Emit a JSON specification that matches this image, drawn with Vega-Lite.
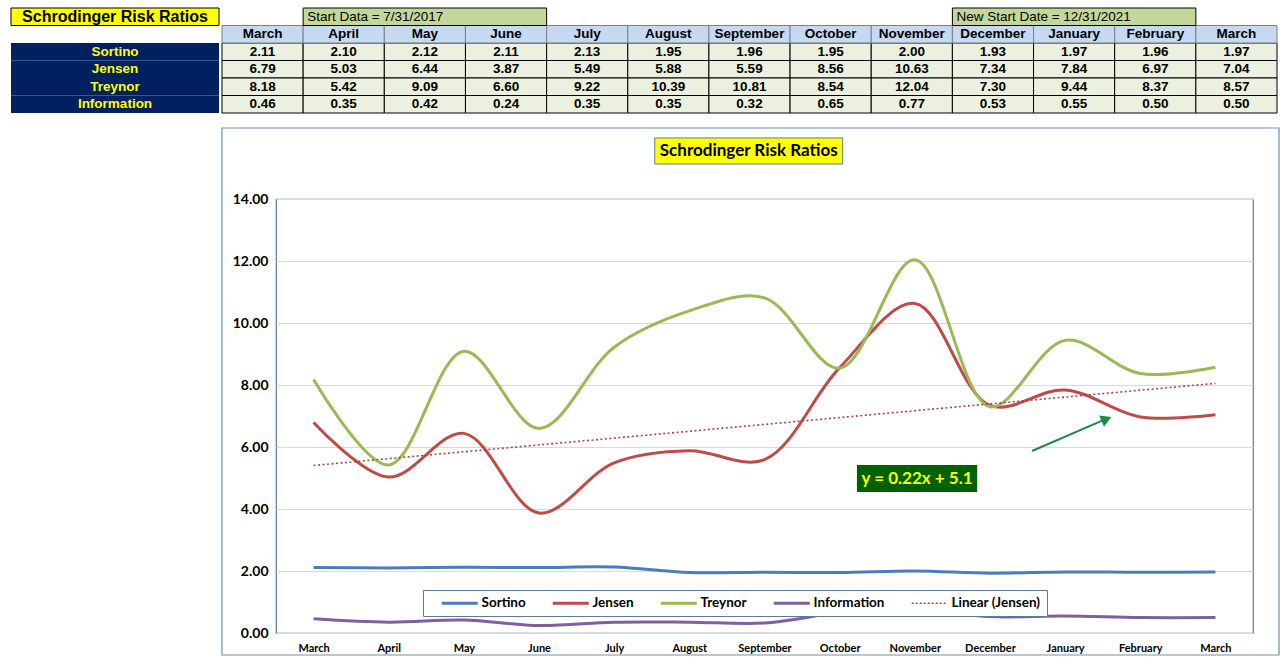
{
  "$schema": "https://vega.github.io/schema/vega-lite/v6.json",
  "background": "white",
  "padding": {"left": 10, "top": 7, "right": 5, "bottom": 3},
  "datasets": {
    "risk": [
      {"i": 1, "month": "March", "series": "Sortino", "value": 2.11},
      {"i": 2, "month": "April", "series": "Sortino", "value": 2.10},
      {"i": 3, "month": "May", "series": "Sortino", "value": 2.12},
      {"i": 4, "month": "June", "series": "Sortino", "value": 2.11},
      {"i": 5, "month": "July", "series": "Sortino", "value": 2.13},
      {"i": 6, "month": "August", "series": "Sortino", "value": 1.95},
      {"i": 7, "month": "September", "series": "Sortino", "value": 1.96},
      {"i": 8, "month": "October", "series": "Sortino", "value": 1.95},
      {"i": 9, "month": "November", "series": "Sortino", "value": 2.00},
      {"i": 10, "month": "December", "series": "Sortino", "value": 1.93},
      {"i": 11, "month": "January", "series": "Sortino", "value": 1.97},
      {"i": 12, "month": "February", "series": "Sortino", "value": 1.96},
      {"i": 13, "month": "March", "series": "Sortino", "value": 1.97},
      {"i": 1, "month": "March", "series": "Jensen", "value": 6.79},
      {"i": 2, "month": "April", "series": "Jensen", "value": 5.03},
      {"i": 3, "month": "May", "series": "Jensen", "value": 6.44},
      {"i": 4, "month": "June", "series": "Jensen", "value": 3.87},
      {"i": 5, "month": "July", "series": "Jensen", "value": 5.49},
      {"i": 6, "month": "August", "series": "Jensen", "value": 5.88},
      {"i": 7, "month": "September", "series": "Jensen", "value": 5.59},
      {"i": 8, "month": "October", "series": "Jensen", "value": 8.56},
      {"i": 9, "month": "November", "series": "Jensen", "value": 10.63},
      {"i": 10, "month": "December", "series": "Jensen", "value": 7.34},
      {"i": 11, "month": "January", "series": "Jensen", "value": 7.84},
      {"i": 12, "month": "February", "series": "Jensen", "value": 6.97},
      {"i": 13, "month": "March", "series": "Jensen", "value": 7.04},
      {"i": 1, "month": "March", "series": "Treynor", "value": 8.18},
      {"i": 2, "month": "April", "series": "Treynor", "value": 5.42},
      {"i": 3, "month": "May", "series": "Treynor", "value": 9.09},
      {"i": 4, "month": "June", "series": "Treynor", "value": 6.60},
      {"i": 5, "month": "July", "series": "Treynor", "value": 9.22},
      {"i": 6, "month": "August", "series": "Treynor", "value": 10.39},
      {"i": 7, "month": "September", "series": "Treynor", "value": 10.81},
      {"i": 8, "month": "October", "series": "Treynor", "value": 8.54},
      {"i": 9, "month": "November", "series": "Treynor", "value": 12.04},
      {"i": 10, "month": "December", "series": "Treynor", "value": 7.30},
      {"i": 11, "month": "January", "series": "Treynor", "value": 9.44},
      {"i": 12, "month": "February", "series": "Treynor", "value": 8.37},
      {"i": 13, "month": "March", "series": "Treynor", "value": 8.57},
      {"i": 1, "month": "March", "series": "Information", "value": 0.46},
      {"i": 2, "month": "April", "series": "Information", "value": 0.35},
      {"i": 3, "month": "May", "series": "Information", "value": 0.42},
      {"i": 4, "month": "June", "series": "Information", "value": 0.24},
      {"i": 5, "month": "July", "series": "Information", "value": 0.35},
      {"i": 6, "month": "August", "series": "Information", "value": 0.35},
      {"i": 7, "month": "September", "series": "Information", "value": 0.32},
      {"i": 8, "month": "October", "series": "Information", "value": 0.65},
      {"i": 9, "month": "November", "series": "Information", "value": 0.77},
      {"i": 10, "month": "December", "series": "Information", "value": 0.53},
      {"i": 11, "month": "January", "series": "Information", "value": 0.55},
      {"i": 12, "month": "February", "series": "Information", "value": 0.50},
      {"i": 13, "month": "March", "series": "Information", "value": 0.50}
    ]
  },
  "spacing": 0,
  "hconcat": [
    {
      "width": 208,
      "height": 105,
      "data": {"name": "risk"},
      "layer": [
        {
          "transform": [{"filter": "datum.i == 1"}],
          "mark": {"type": "rect", "fill": "#002060"},
          "encoding": {
            "y": {"field": "series", "type": "nominal", "axis": null,
              "scale": {"domain": ["title", "header", "Sortino", "Jensen", "Treynor", "Information"], "paddingInner": 0, "paddingOuter": 0}}
          }
        },
        {
          "transform": [{"filter": "datum.i == 1"}],
          "mark": {"type": "text", "color": "#ffff00", "font": "Liberation Sans Narrow, Liberation Sans", "fontWeight": "bold", "fontSize": 13.5},
          "encoding": {
            "y": {"field": "series", "type": "nominal"},
            "text": {"field": "series"}
          }
        },
        {
          "data": {"values": [{}]},
          "mark": {"type": "rect", "fill": "#ffff00", "stroke": "#000000", "strokeWidth": 1},
          "encoding": {"y": {"datum": "title", "type": "nominal"}}
        },
        {
          "data": {"values": [{}]},
          "mark": {"type": "text", "color": "#000000", "font": "Liberation Sans Narrow, Liberation Sans", "fontWeight": "bold", "fontSize": 16},
          "encoding": {"y": {"datum": "title", "type": "nominal"}, "text": {"value": "Schrodinger Risk Ratios"}}
        }
      ]
    },
    {
      "spacing": 12,
      "vconcat": [
        {
          "width": 1001,
          "height": 105,
          "data": {"name": "risk"},
          "encoding": {
            "x": {"field": "i", "type": "ordinal", "axis": null, "scale": {"range": [-54, 1001], "paddingInner": 0, "paddingOuter": 0}}
          },
          "layer": [
            {
              "mark": {"type": "rect", "fill": "#ebf1de", "stroke": "#000000", "strokeWidth": 1},
              "encoding": {
                "y": {"field": "series", "type": "nominal", "axis": null,
                  "scale": {"domain": ["title", "header", "Sortino", "Jensen", "Treynor", "Information"], "paddingInner": 0, "paddingOuter": 0}}
              }
            },
            {
              "mark": {"type": "text", "color": "#000000", "font": "Liberation Sans Narrow, Liberation Sans", "fontWeight": "bold", "fontSize": 13.5},
              "encoding": {
                "y": {"field": "series", "type": "nominal"},
                "text": {"field": "value", "type": "quantitative", "format": ".2f"}
              }
            },
            {
              "transform": [{"filter": "datum.series == 'Sortino'"}],
              "mark": {"type": "rect", "fill": "#c5d9f1", "stroke": "#7f7f7f", "strokeWidth": 1},
              "encoding": {"y": {"datum": "header", "type": "nominal"}}
            },
            {
              "transform": [{"filter": "datum.series == 'Sortino'"}],
              "mark": {"type": "text", "color": "#000000", "font": "Liberation Sans Narrow, Liberation Sans", "fontWeight": "bold", "fontSize": 13.5},
              "encoding": {"y": {"datum": "header", "type": "nominal"}, "text": {"field": "month"}}
            },
            {
              "data": {"values": [{}]},
              "mark": {"type": "rect", "fill": "#c4d79b", "stroke": "#000000", "strokeWidth": 1},
              "encoding": {"x": {"datum": 2, "type": "ordinal", "bandPosition": 0}, "x2": {"datum": 5, "bandPosition": 0}, "y": {"datum": "title", "type": "nominal"}}
            },
            {
              "data": {"values": [{}]},
              "mark": {"type": "rect", "fill": "#c4d79b", "stroke": "#000000", "strokeWidth": 1},
              "encoding": {"x": {"datum": 10, "type": "ordinal", "bandPosition": 0}, "x2": {"datum": 13, "bandPosition": 0}, "y": {"datum": "title", "type": "nominal"}}
            },
            {
              "data": {"values": [{}]},
              "mark": {"type": "text", "align": "left", "dx": 4, "color": "#000000", "font": "Liberation Sans Narrow, Liberation Sans", "fontSize": 13.5},
              "encoding": {"x": {"datum": 2, "type": "ordinal", "bandPosition": 0}, "y": {"datum": "title", "type": "nominal"}, "text": {"value": "Start Data = 7/31/2017"}}
            },
            {
              "data": {"values": [{}]},
              "mark": {"type": "text", "align": "left", "dx": 4, "color": "#000000", "font": "Liberation Sans Narrow, Liberation Sans", "fontSize": 13.5},
              "encoding": {"x": {"datum": 10, "type": "ordinal", "bandPosition": 0}, "y": {"datum": "title", "type": "nominal"}, "text": {"value": "New Start Date = 12/31/2021"}}
            }
          ]
        },
        {
          "width": 977,
          "height": 434,
          "view": {"stroke": "#5d7b99", "strokeWidth": 1.2, "fill": "white"},
          "data": {"name": "risk"},
          "layer": [
            {
              "data": {"values": [{}]},
              "mark": {"type": "rect", "fill": null, "stroke": "#6f8faf", "strokeWidth": 1.2},
              "encoding": {
                "x": {"datum": -0.219, "type": "quantitative"},
                "x2": {"datum": 13.846},
                "y": {"datum": 16.29, "type": "quantitative"},
                "y2": {"datum": -0.71}
              }
            },
            {
              "data": {"values": [{}]},
              "mark": {"type": "rect", "fill": "#ffff00", "stroke": "#5d7b99", "strokeWidth": 1},
              "encoding": {
                "x": {"datum": 5.54, "type": "quantitative"},
                "x2": {"datum": 8.04},
                "y": {"datum": 15.97, "type": "quantitative"},
                "y2": {"datum": 15.13}
              }
            },
            {
              "data": {"values": [{}]},
              "mark": {"type": "text", "font": "Lato", "fontWeight": "bold", "fontSize": 17, "color": "#000000"},
              "encoding": {
                "x": {"datum": 6.79, "type": "quantitative"},
                "y": {"datum": 15.55, "type": "quantitative"},
                "text": {"value": "Schrodinger Risk Ratios"}
              }
            },
            {
              "mark": {"type": "line", "interpolate": "catmull-rom", "strokeWidth": 3},
              "encoding": {
                "x": {"field": "i", "type": "quantitative",
                  "scale": {"domain": [0.5, 13.5], "nice": false, "zero": false},
                  "axis": {"title": null, "values": [1,2,3,4,5,6,7,8,9,10,11,12,13], "grid": false, "ticks": false, "domain": false,
                    "labelExpr": "['','March','April','May','June','July','August','September','October','November','December','January','February','March'][datum.value]",
                    "labelFont": "Lato", "labelFontWeight": "bold", "labelFontSize": 11, "labelColor": "#000000", "labelPadding": 9}},
                "y": {"field": "value", "type": "quantitative",
                  "scale": {"domain": [0, 14], "nice": false, "zero": true},
                  "axis": {"title": null, "values": [0,2,4,6,8,10,12,14], "format": ".2f", "grid": true, "gridColor": "#d9d9d9", "gridWidth": 1.2,
                    "ticks": false, "domain": false, "labelFont": "Lato", "labelFontWeight": "bold", "labelFontSize": 14, "labelColor": "#000000", "labelPadding": 8}},
                "color": {"field": "series", "type": "nominal",
                  "scale": {"domain": ["Sortino", "Jensen", "Treynor", "Information", "Linear (Jensen)"],
                    "range": ["#4a7ebb", "#be4b48", "#98b954", "#7d60a0", "#a84542"]},
                  "legend": {"orient": "none", "legendX": 412, "legendY": 582, "direction": "horizontal", "columns": 5, "title": null,
                    "strokeColor": "#5d7b99", "fillColor": "white", "padding": 6,
                    "labelFont": "Lato", "labelFontSize": 13.5, "labelFontWeight": "bold", "labelColor": "#000000",
                    "symbolType": "stroke", "symbolSize": 1300, "symbolStrokeWidth": 3, "symbolOffset": 24, "columnPadding": 14, "labelOffset": 15,
                    "encode": {"symbols": {"update": {
                      "strokeDash": {"signal": "datum.value == 'Linear (Jensen)' ? [2,2] : [1,0]"},
                      "strokeWidth": {"signal": "datum.value == 'Linear (Jensen)' ? 1.5 : 3"}}}}}
                }
              }
            },
            {
              "transform": [{"filter": "datum.series == 'Jensen'"}, {"regression": "value", "on": "i"}],
              "mark": {"type": "line", "strokeDash": [2, 2.5], "strokeWidth": 1.6},
              "encoding": {
                "x": {"field": "i", "type": "quantitative"},
                "y": {"field": "value", "type": "quantitative"},
                "color": {"datum": "Linear (Jensen)"}
              }
            },
            {
              "data": {"values": [{}]},
              "mark": {"type": "rect", "fill": "#006100"},
              "encoding": {
                "x": {"datum": 8.23, "type": "quantitative"},
                "x2": {"datum": 9.83},
                "y": {"datum": 5.42, "type": "quantitative"},
                "y2": {"datum": 4.55}
              }
            },
            {
              "data": {"values": [{}]},
              "mark": {"type": "text", "font": "Lato", "fontWeight": "bold", "fontSize": 17, "color": "#ffff00"},
              "encoding": {
                "x": {"datum": 9.03, "type": "quantitative"},
                "y": {"datum": 4.98, "type": "quantitative"},
                "text": {"value": "y = 0.22x + 5.1"}
              }
            },
            {
              "data": {"values": [{}]},
              "mark": {"type": "rule", "color": "#1e8a46", "strokeWidth": 2},
              "encoding": {
                "x": {"datum": 10.56, "type": "quantitative"},
                "x2": {"datum": 11.5},
                "y": {"datum": 5.87, "type": "quantitative"},
                "y2": {"datum": 6.86}
              }
            },
            {
              "data": {"values": [{}]},
              "mark": {"type": "point", "shape": "triangle-right", "filled": true, "color": "#1e8a46", "size": 150, "angle": -23, "opacity": 1},
              "encoding": {
                "x": {"datum": 11.55, "type": "quantitative"},
                "y": {"datum": 6.9, "type": "quantitative"}
              }
            }
          ]
        }
      ]
    }
  ],
  "config": {
    "view": {"stroke": null},
    "font": "Lato",
    "concat": {"spacing": 12}
  }
}
